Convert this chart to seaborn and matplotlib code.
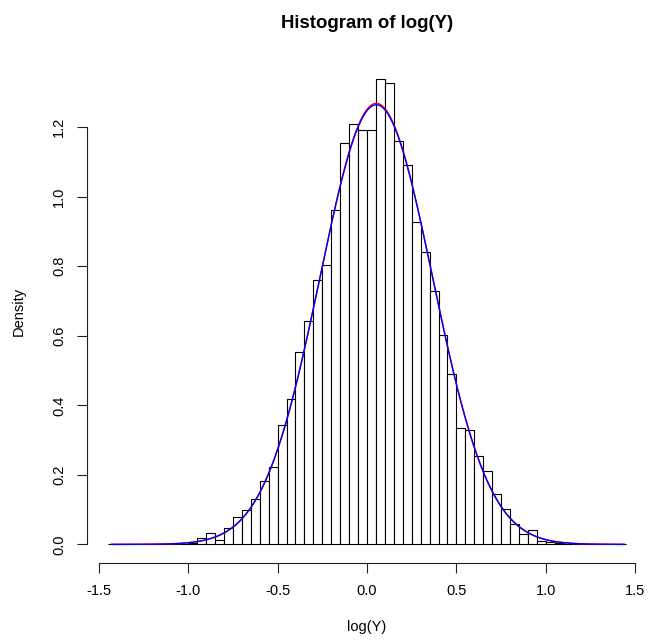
# log(Y) 히스토그램 + 정규분포 곡선 (R hist 스타일 재현)

import numpy as np
import pandas as pd
import matplotlib
matplotlib.use('Agg')
import matplotlib.pyplot as plt
import seaborn as sns

# 구간 경계 (폭 0.05) 와 각 구간의 밀도값
breaks = [round(-1.45 + 0.05 * i, 2) for i in range(59)]
density = [0.002, 0.0, 0.0, 0.0, 0.0, 0.0, 0.0, 0.0, 0.002, 0.004,
           0.018, 0.034, 0.012, 0.047, 0.080, 0.100, 0.130, 0.182, 0.222, 0.342,
           0.417, 0.554, 0.643, 0.761, 0.805, 0.962, 1.154, 1.209, 1.193, 1.193,
           1.338, 1.326, 1.160, 1.091, 0.927, 0.841, 0.730, 0.601, 0.490, 0.334,
           0.330, 0.254, 0.212, 0.145, 0.101, 0.060, 0.029, 0.042, 0.011, 0.007,
           0.004, 0.002, 0.0, 0.0, 0.0, 0.0, 0.0, 0.002]

# 정규분포 곡선 파라미터 (빨강 / 파랑)
mu_red, sd_red = 0.052, 0.3145
mu_blue, sd_blue = 0.052, 0.3155
curve_range = (-1.43, 1.44)

x_ticks = [-1.5, -1.0, -0.5, 0.0, 0.5, 1.0, 1.5]
x_labels = ['-1.5', '-1.0', '-0.5', '0.0', '0.5', '1.0', '1.5']
y_ticks = [0.0, 0.2, 0.4, 0.6, 0.8, 1.0, 1.2]

b = np.array(breaks)
mids = (b[:-1] + b[1:]) / 2
df = pd.DataFrame({'x': mids, 'w': density})

xs = np.linspace(curve_range[0], curve_range[1], 400)
def dnorm(x, m, s):
    return np.exp(-(x - m) ** 2 / (2 * s ** 2)) / (s * np.sqrt(2 * np.pi))
curves = pd.DataFrame({'x': xs,
                       'red': dnorm(xs, mu_red, sd_red),
                       'blue': dnorm(xs, mu_blue, sd_blue)})

sns.set_style('white')
plt.rcParams['font.family'] = ['Liberation Sans', 'DejaVu Sans']
# 글자색은 R 처럼 검정
for k in ['text.color', 'axes.labelcolor', 'xtick.color', 'ytick.color']:
    plt.rcParams[k] = 'black'

fig = plt.figure(figsize=(6.48, 6.40), dpi=100)
ax = fig.add_axes([87 / 648, 1 - 563 / 640, 560 / 648, (563 - 60.6) / 640])

sns.histplot(data=df, x='x', weights='w', bins=breaks, stat='count',
             color='white', edgecolor='black', linewidth=0.8, alpha=1, ax=ax)
sns.lineplot(data=curves, x='x', y='red', color='red', linewidth=1.0, ax=ax)
sns.lineplot(data=curves, x='x', y='blue', color='blue', linewidth=1.0, ax=ax)

# R 처럼 4% 여백
xr = breaks[-1] - breaks[0]
ax.set_xlim(breaks[0] - 0.04 * xr, breaks[-1] + 0.04 * xr)
ymax = max(density)
ax.set_ylim(-0.04 * ymax, ymax * 1.04)

ax.set_xticks(x_ticks)
ax.set_xticklabels(x_labels)
ax.set_yticks(y_ticks)
ax.set_yticklabels(['%.1f' % v for v in y_ticks], rotation=90, va='center')

for s in ['top', 'right']:
    ax.spines[s].set_visible(False)
ax.spines['bottom'].set_bounds(-1.5, 1.5)
ax.spines['left'].set_bounds(0.0, 1.2)
for s in ['bottom', 'left']:
    ax.spines[s].set_color('#222222')
    ax.spines[s].set_linewidth(0.8)

ax.tick_params(axis='both', direction='out', length=7, width=0.8, color='#222222',
               labelsize=10.5, pad=8, bottom=True, left=True)

ax.set_xlabel('log(Y)', fontsize=10.5, labelpad=16)
ax.set_ylabel('Density', fontsize=10.5, labelpad=19)
fig.text(367 / 648, 1 - 23 / 640, 'Histogram of log(Y)', fontsize=13.4,
         fontweight='bold', ha='center', va='center')

fig.savefig('out.png', dpi=100)
